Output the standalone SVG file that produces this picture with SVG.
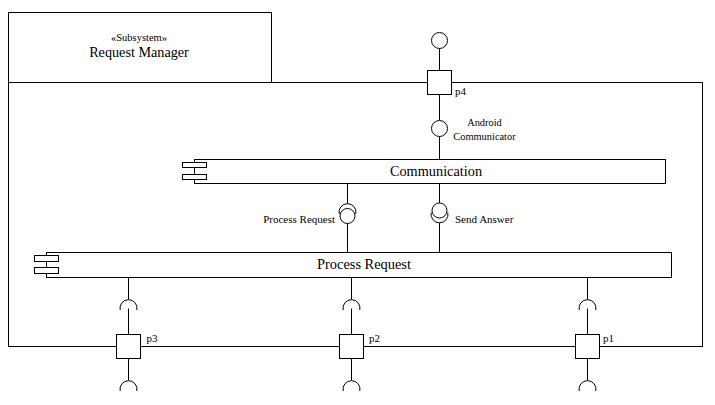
<svg xmlns="http://www.w3.org/2000/svg" width="715" height="405" viewBox="0 0 715 405">
<style>
.s{fill:#fff;stroke:#000;stroke-width:1}
.n{fill:none;stroke:#000;stroke-width:1}
text{font-family:'Liberation Serif','Times New Roman',serif;fill:#000}
</style>
<rect width="715" height="405" fill="#fff"/>
<g id="subsystem">
<rect class="s" x="8.5" y="12.5" width="263" height="70"/>
<rect class="s" x="8.5" y="82.5" width="694" height="264"/>
<text x="139" y="41" font-size="10.5" text-anchor="middle">«Subsystem»</text>
<text x="139" y="57" font-size="14.2" text-anchor="middle">Request Manager</text>
</g>
<g id="connectors">
<line class="n" x1="439.5" y1="48.5" x2="439.5" y2="70.5"/>
<line class="n" x1="439.5" y1="94.5" x2="439.5" y2="120.5"/>
<line class="n" x1="439.5" y1="136.5" x2="439.5" y2="159.5"/>
<line class="n" x1="347.5" y1="183.5" x2="347.5" y2="203.5"/>
<line class="n" x1="347.5" y1="223.5" x2="347.5" y2="252.5"/>
<line class="n" x1="439.5" y1="183.5" x2="439.5" y2="203"/>
<line class="n" x1="439.5" y1="223" x2="439.5" y2="252.5"/>
<line class="n" x1="128.5" y1="277.5" x2="128.5" y2="299.5"/>
<line class="n" x1="128.5" y1="308.5" x2="128.5" y2="334.5"/>
<line class="n" x1="128.5" y1="358.5" x2="128.5" y2="380.5"/>
<line class="n" x1="351.5" y1="277.5" x2="351.5" y2="299.5"/>
<line class="n" x1="351.5" y1="308.5" x2="351.5" y2="334.5"/>
<line class="n" x1="351.5" y1="358.5" x2="351.5" y2="380.5"/>
<line class="n" x1="587.5" y1="277.5" x2="587.5" y2="299.5"/>
<line class="n" x1="587.5" y1="308.5" x2="587.5" y2="334.5"/>
<line class="n" x1="587.5" y1="358.5" x2="587.5" y2="380.5"/>
</g>
<g id="iface-external">
<circle class="s" cx="439.5" cy="40.5" r="8"/>
</g>
<g id="port-p4">
<rect class="s" x="427.5" y="70.5" width="24" height="24"/>
<text x="455" y="95" font-size="11">p4</text>
</g>
<g id="iface-android">
<circle class="s" cx="439.5" cy="128.5" r="8"/>
<text x="484.5" y="126" font-size="10.4" text-anchor="middle">Android</text>
<text x="484.5" y="140" font-size="10.4" text-anchor="middle">Communicator</text>
</g>
<g id="comp-communication">
<rect class="s" x="194.5" y="159.5" width="471" height="24"/>
<rect class="s" x="182.5" y="162.5" width="24" height="5"/>
<rect class="s" x="182.5" y="174.5" width="24" height="5"/>
<text x="436" y="176" font-size="14.3" text-anchor="middle">Communication</text>
</g>
<g id="iface-process-request">
<circle class="n" cx="347.5" cy="216" r="7.5"/>
<path class="n" d="M339.2,214 A8.5,8.5 0 1 1 355.8,214"/>
<text x="335" y="223" font-size="11" text-anchor="end">Process Request</text>
</g>
<g id="iface-send-answer">
<circle class="n" cx="439.5" cy="210.5" r="7.5"/>
<path class="n" d="M431.2,212.5 A8.5,8.5 0 1 0 447.8,212.5"/>
<text x="455" y="223" font-size="11">Send Answer</text>
</g>
<g id="comp-process-request">
<rect class="s" x="46.5" y="252.5" width="625" height="25"/>
<rect class="s" x="34.5" y="255.5" width="24" height="6"/>
<rect class="s" x="34.5" y="267.5" width="24" height="6"/>
<text x="364" y="269" font-size="14.4" text-anchor="middle">Process Request</text>
</g>
<g id="sockets-required">
<path class="n" d="M120.2,310 A8.5,8.5 0 1 1 136.8,310"/>
<path class="n" d="M343.2,310 A8.5,8.5 0 1 1 359.8,310"/>
<path class="n" d="M579.2,310 A8.5,8.5 0 1 1 595.8,310"/>
</g>
<g id="port-p3">
<rect class="s" x="116.5" y="334.5" width="24" height="24"/>
<text x="146.5" y="342" font-size="11">p3</text>
</g>
<g id="port-p2">
<rect class="s" x="339.5" y="334.5" width="24" height="24"/>
<text x="369" y="342" font-size="11">p2</text>
</g>
<g id="port-p1">
<rect class="s" x="575.5" y="334.5" width="24" height="24"/>
<text x="603" y="342" font-size="11">p1</text>
</g>
<g id="sockets-external">
<path class="n" d="M120.2,391 A8.5,8.5 0 1 1 136.8,391"/>
<path class="n" d="M343.2,391 A8.5,8.5 0 1 1 359.8,391"/>
<path class="n" d="M579.2,391 A8.5,8.5 0 1 1 595.8,391"/>
</g>
</svg>
